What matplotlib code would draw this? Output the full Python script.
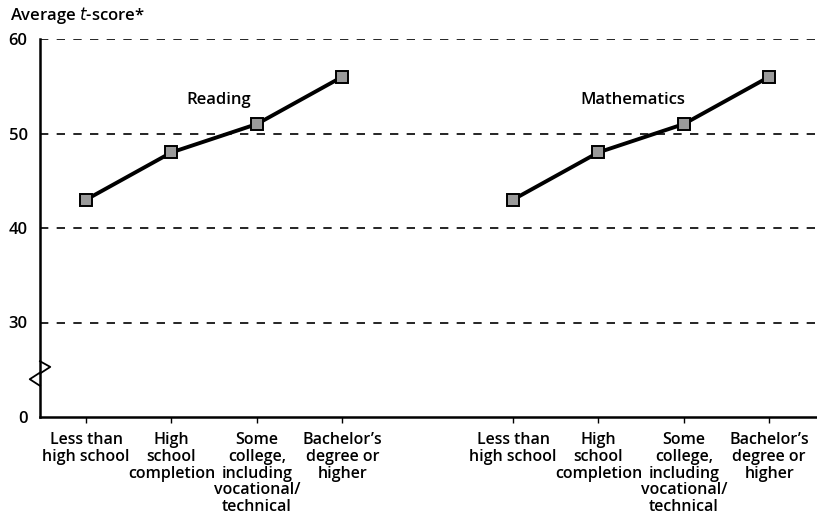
import matplotlib
matplotlib.use("Agg")
import matplotlib.pyplot as plt
import numpy as np

plt.rcParams['font.family'] = ['Open Sans', 'DejaVu Sans']

# Data
levels = ["Less than\nhigh school", "High\nschool\ncompletion",
          "Some\ncollege,\nincluding\nvocational/\ntechnical",
          "Bachelor\u2019s\ndegree or\nhigher"]
reading = [43, 48, 51, 56]
mathematics = [43, 48, 51, 56]
reading_x = [0, 1, 2, 3]
math_x = [5, 6, 7, 8]
ytick_values = [0, 30, 40, 50, 60]


# axis is broken between 0 and 30: 0 -> 0, 30 and up -> v - 20
def brk(v):
    v = np.asarray(v, dtype=float)
    return np.where(v >= 30, v - 20, v / 3.0)


fig = plt.figure(figsize=(8.17, 5.20), dpi=100)
ax = fig.add_axes([40 / 817, 1 - 417 / 520, 1 - 40 / 817, (417 - 39) / 520])

ax.set_xlim(-0.54, 8.56)
ax.set_ylim(0, 40)

# dashed grid lines
for v in [30, 40, 50, 60]:
    ax.axhline(brk(v), color='black', lw=1.2, ls=(0, (5, 5)), zorder=1)

for xs, ys in [(reading_x, reading), (math_x, mathematics)]:
    ax.plot(xs, brk(ys), color='black', lw=2.8, zorder=2,
            marker='s', markersize=8, markerfacecolor='#9a9a9a',
            markeredgecolor='black', markeredgewidth=1.4)

ax.text(1.55, brk(53.5), "Reading", ha='center', va='center', fontsize=12,
        fontweight='semibold')
ax.text(6.4, brk(53.5), "Mathematics", ha='center', va='center', fontsize=12,
        fontweight='semibold')

ax.set_yticks(brk(ytick_values))
ax.set_yticklabels([str(v) for v in ytick_values], fontsize=12, fontweight='semibold')
ax.tick_params(axis='y', length=0, pad=9)

ax.set_xticks(reading_x + math_x)
ax.set_xticklabels(levels + levels, fontsize=11.5, linespacing=1.06, va='top',
                   fontweight='semibold')
ax.tick_params(axis='x', length=4, width=1, direction='out', pad=7)

for s in ['top', 'right']:
    ax.spines[s].set_visible(False)
ax.spines['left'].set_linewidth(1.8)
ax.spines['bottom'].set_linewidth(1.8)

# axis break marks
ax.plot([-0.54, -0.54 + 0.12, -0.54], [brk(0) + 5.9, brk(0) + 5.3, brk(0) + 4.6],
        color='black', lw=1.3, clip_on=False, zorder=3)
ax.plot([-0.54, -0.54 - 0.12, -0.54], [brk(0) + 4.7, brk(0) + 4.0, brk(0) + 3.3],
        color='black', lw=1.3, clip_on=False, zorder=3)

fig.text(10 / 817, 1 - 15 / 520, "Average $\\it{t}$-score*", fontsize=12,
         ha='left', va='center', fontweight='semibold')

fig.savefig("out.png", dpi=100)
